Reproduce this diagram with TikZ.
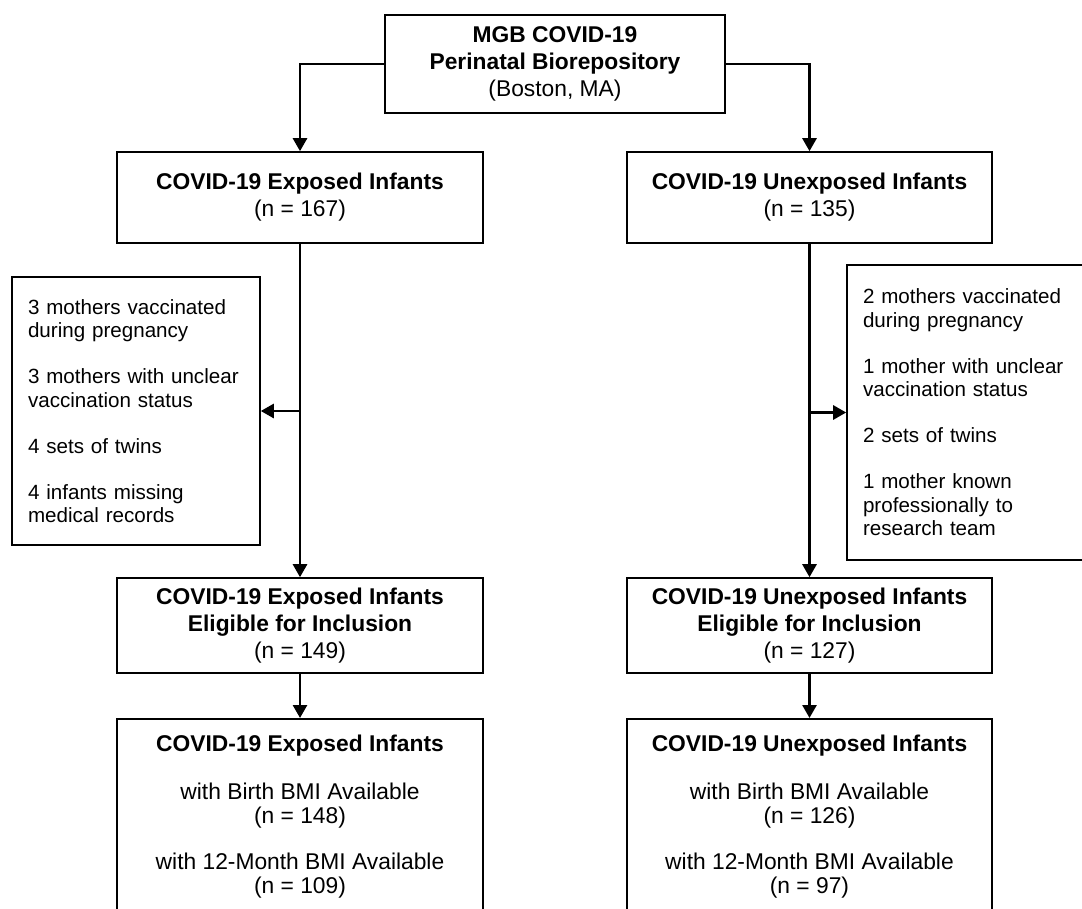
\documentclass[tikz,border=0pt]{standalone}
\usepackage{fontspec}
\setmainfont{Liberation Sans}
\usetikzlibrary{positioning, calc, arrows.meta}

\begin{document}
\begin{tikzpicture}[x=0.5pt, y=-0.5pt,
    box/.style = {draw, line width=0.8pt, align=center, inner sep=0pt, font=\fontsize{11.4}{13.5}\selectfont},
    sidebox/.style = {draw, line width=0.8pt, align=left, text width=108pt, inner xsep=8pt, inner ysep=0pt, font=\fontsize{10.3}{11.75}\selectfont},
    conn/.style = {line width=1.35pt, -{Triangle[width=7pt,length=6.5pt]}}]
    \useasboundingbox (0,0) rectangle (1082,909);
    \clip (0,0) rectangle (1082,909);
    % Kopf
    \node[box, minimum width=170pt, minimum height=49pt] (repo) at (555,64) {\textbf{MGB COVID-19}\\\textbf{Perinatal Biorepository}\\(Boston, MA)};
    \node[box, minimum width=183pt, minimum height=45.5pt] (exp) at (300,197.5) {\textbf{COVID-19 Exposed Infants}\\(n = 167)};
    \node[box, minimum width=182.5pt, minimum height=45.5pt] (unexp) at (809.5,197.5) {\textbf{COVID-19 Unexposed Infants}\\(n = 135)};
    % Ausschluss
    \node[sidebox, minimum height=134pt] (exclexp) at (136,411) {3 mothers vaccinated\\during pregnancy\\[11.25pt]3 mothers with unclear\\vaccination status\\[11.25pt]4 sets of twins\\[11.25pt]4 infants missing\\medical records};
    \node[sidebox, minimum height=147.5pt] (exclunexp) at (971,412.5) {2 mothers vaccinated\\during pregnancy\\[11.25pt]1 mother with unclear\\vaccination status\\[11.25pt]2 sets of twins\\[11.25pt]1 mother known\\professionally to\\research team};
    \node[box, minimum width=183pt, minimum height=47.5pt] (expelig) at (300,625.5) {\textbf{COVID-19 Exposed Infants}\\\textbf{Eligible for Inclusion}\\(n = 149)};
    \node[box, minimum width=182.5pt, minimum height=47.5pt] (unexpelig) at (809.5,625.5) {\textbf{COVID-19 Unexposed Infants}\\\textbf{Eligible for Inclusion}\\(n = 127)};
    % BMI (unten abgeschnitten)
    \node[box, anchor=north, minimum width=183pt, inner ysep=8pt, text depth=12pt, font=\fontsize{11.4}{12}\selectfont] (expbmi) at (300,718) {\textbf{COVID-19 Exposed Infants}\\[12pt]with Birth BMI Available\\(n = 148)\\[11pt]with 12-Month BMI Available\\(n = 109)};
    \node[box, anchor=north, minimum width=182.5pt, inner ysep=8pt, text depth=12pt, font=\fontsize{11.4}{12}\selectfont] (unexpbmi) at (809.5,718) {\textbf{COVID-19 Unexposed Infants}\\[12pt]with Birth BMI Available\\(n = 126)\\[11pt]with 12-Month BMI Available\\(n = 97)};
    % Pfeile
    \draw[conn] (repo.west) -| (exp.north);
    \draw[conn] (repo.east) -| (unexp.north);
    \draw[conn] (exp.south) -- (expelig.north);
    \draw[conn] (exp.south |- exclexp.east) -- (exclexp.east);
    \draw[conn] (unexp.south) -- (unexpelig.north);
    \draw[conn] (unexp.south |- exclunexp.west) -- (exclunexp.west);
    \draw[conn] (expelig.south) -- (expbmi.north);
    \draw[conn] (unexpelig.south) -- (unexpbmi.north);
\end{tikzpicture}
\end{document}
